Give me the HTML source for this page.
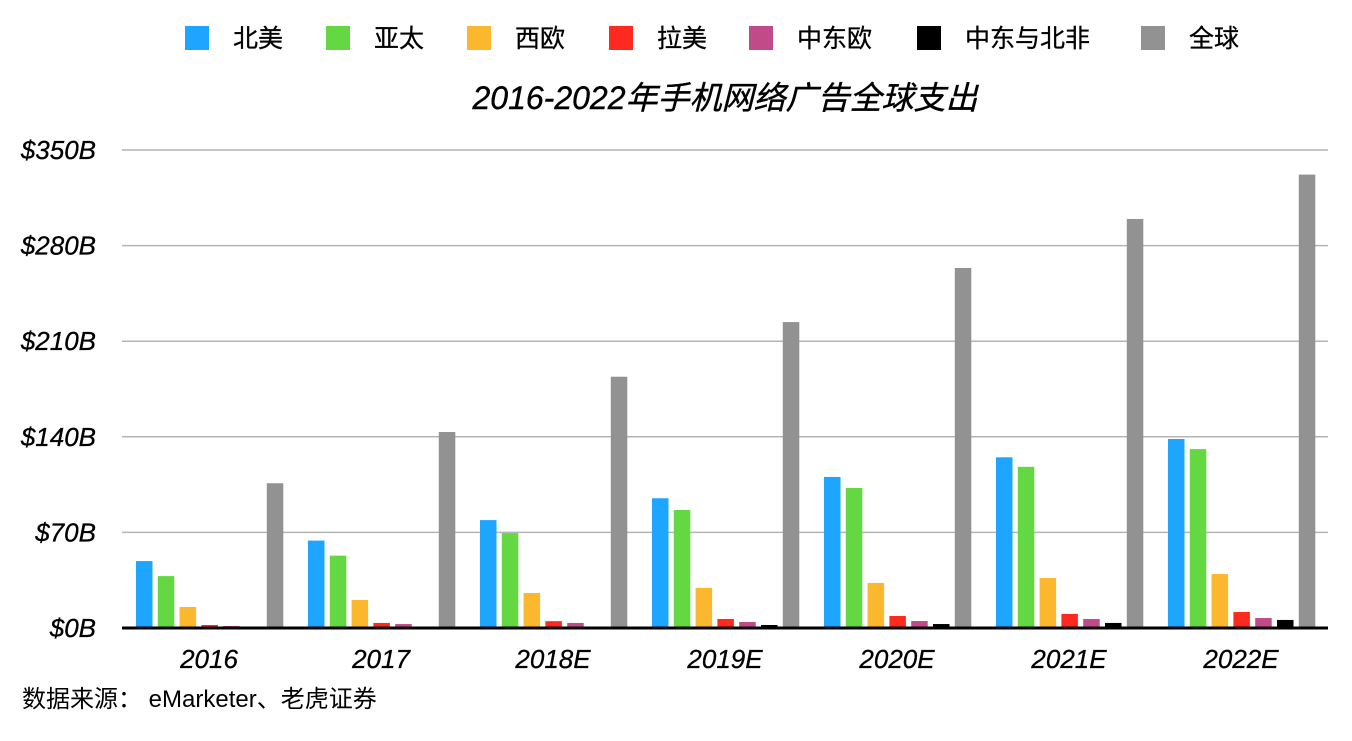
<!DOCTYPE html>
<html><head><meta charset="utf-8">
<style>
html,body{margin:0;padding:0;background:#fff;}
body{width:1352px;height:736px;overflow:hidden;font-family:"Liberation Sans","Noto Sans CJK SC",sans-serif;}
</style></head>
<body>
<svg id="chart" width="1352" height="736" xmlns="http://www.w3.org/2000/svg" font-family="Liberation Sans, Noto Sans CJK SC, sans-serif">
<g id="legend"></g>
<text x="725" y="109" text-anchor="middle" font-size="32" font-style="italic" fill="#000" stroke="#000" stroke-width="0.4">2016-2022年手机网络广告全球支出</text>
<g id="grid"></g>
<g id="bars"></g>
<g id="xlabels"></g>
<line x1="122" y1="628" x2="1328" y2="628" stroke="#000" stroke-width="3"/>
<text x="22" y="707" font-size="24" fill="#000">数据来源： eMarketer、老虎证券</text>
</svg>
<script>
const categories=["2016","2017","2018E","2019E","2020E","2021E","2022E"];
const seriesNames=["北美","亚太","西欧","拉美","中东欧","中东与北非","全球"];
const seriesColors=["#1ea5ff","#63d843","#fbb72d","#ff2a1f","#c04b88","#000000","#929292"];
const northAmerica=[49,64,79,95,110.6,125,138.4];
const asiaPacific=[38,53,69.5,86.4,102.5,118,131];
const westernEurope=[15.4,20.5,25.6,29.3,33,36.6,39.5];
const latinAmerica=[2.2,3.7,5,6.6,8.8,10.3,11.7];
const centralEastEurope=[1.5,2.9,3.7,4.4,5.1,6.6,7.3];
const middleEastAfrica=[0,0,0,2.2,2.9,3.7,5.9];
const global=[106,143.5,184,224,263.6,299.5,332];
const yTicks=[0,70,140,210,280,350];
const yTickLabels=["$0B","$70B","$140B","$210B","$280B","$350B"];
const series=[northAmerica,asiaPacific,westernEurope,latinAmerica,centralEastEurope,middleEastAfrica,global];
const NS="http://www.w3.org/2000/svg";
const y0=628,y1=150,yMax=350;
const yScale=v=>y0-(v/yMax)*(y0-y1);
const groupX=i=>136+i*172;
const barX=(i,s)=>groupX(i)+s*21.8;
function mk(t,a,p){const e=document.createElementNS(NS,t);for(const k in a)e.setAttribute(k,a[k]);p.appendChild(e);return e;}
const grid=document.getElementById('grid');
yTicks.forEach((v,i)=>{
 if(i>0){const l=mk('line',{x1:122,x2:1328,y1:yScale(v),y2:yScale(v),stroke:'#b4b4b4','stroke-width':1.5},grid);
 
 }
 const t=mk('text',{x:96,y:yScale(v)+9,'text-anchor':'end','font-size':26,'font-style':'italic',fill:'#000',stroke:'#000','stroke-width':0.3},grid);
 t.textContent=yTickLabels[i];
 
 
});
const bars=document.getElementById('bars');
series.forEach((arr,s)=>arr.forEach((v,i)=>{
 if(v<=0)return;
 const r=mk('rect',{x:barX(i,s),y:yScale(v),width:16.5,height:y0-yScale(v),fill:seriesColors[s]},bars);
 
 
}));
const xl=document.getElementById('xlabels');
categories.forEach((c,i)=>{
 const t=mk('text',{x:groupX(i)+73,y:668,'text-anchor':'middle','font-size':26,'font-style':'italic',fill:'#000',stroke:'#000','stroke-width':0.3},xl);
 t.textContent=c;
 
 
});
const legendX=[185,326,467,609,749,917,1141];
const lg=document.getElementById('legend');
seriesNames.forEach((n,i)=>{
 const g=mk('g',{},lg);
 
 
 mk('rect',{x:legendX[i],y:26,width:24,height:24,fill:seriesColors[i]},g);
 const t=mk('text',{x:legendX[i]+48,y:47,'font-size':25,fill:'#000',stroke:'#000','stroke-width':0.3},g);
 t.textContent=n;
});
</script>
</body></html>
